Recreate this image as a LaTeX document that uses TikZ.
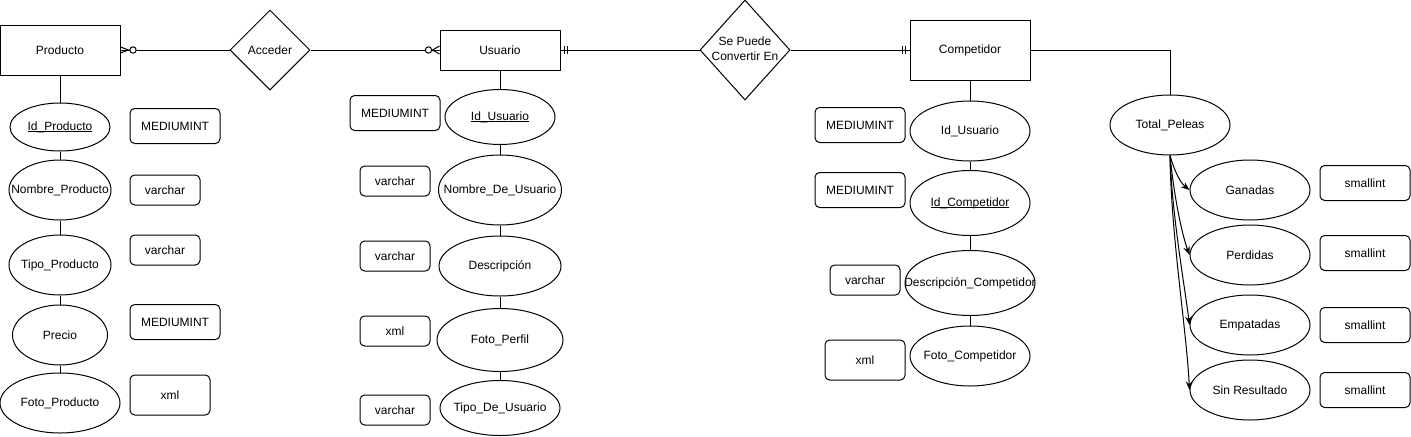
\documentclass[tikz,border=0pt]{standalone}
\usepackage{fontspec}
\setmainfont{Liberation Sans}
\usetikzlibrary{shapes.geometric,arrows.meta,calc}
\newcommand{\tx}[1]{\makebox[0pt]{#1}}
\newcommand{\myul}[1]{\setbox0\hbox{#1}\rlap{\rule[-1.6pt]{\wd0}{0.6pt}}\box0}
\begin{document}
\begin{tikzpicture}[x=0.75pt,y=-0.75pt,line width=0.75pt,
  every node/.style={font=\fontsize{9}{11.25}\selectfont},
  ent/.style 2 args={draw,rectangle,inner sep=0pt,minimum width=#1*0.75pt,minimum height=#2*0.75pt},
  att/.style 2 args={draw,ellipse,inner sep=0pt,minimum width=#1*0.75pt,minimum height=#2*0.75pt},
  typ/.style 2 args={draw,rectangle,rounded corners=3.5pt,inner sep=0pt,minimum width=#1*0.75pt,minimum height=#2*0.75pt},
  rel/.style 2 args={draw,diamond,inner sep=0pt,minimum width=#1*0.75pt,minimum height=#2*0.75pt},
  arr/.style={-{Stealth[length=6.5pt,width=5pt]}}]
\useasboundingbox (0,0) rectangle (1411,436);
% entities and relations
\node[ent={120}{50}] (prod) at (60,50) {\tx{Producto}};
\node[rel={80}{80}] (acc) at (270,50) {\tx{Acceder}};
\node[ent={120}{40}] (usu) at (500,50) {\tx{Usuario}};
\node[rel={90}{100}] (spc) at (745,50) {\tx{\begin{tabular}{@{}c@{}}Se Puede\\Convertir En\end{tabular}}};
\node[ent={120}{60}] (comp) at (970,50) {\tx{Competidor}};
% Producto attributes
\node[att={100}{48}] (idp) at (60,127) {\tx{\myul{Id\_Producto}}};
\node[att={102}{60}] (nomp) at (60,190) {\tx{Nombre\_Producto}};
\node[att={102}{60}] (tipp) at (60,265) {\tx{Tipo\_Producto}};
\node[att={95}{60}] (prec) at (60,335) {\tx{Precio}};
\node[att={120}{60}] (fotp) at (60,403) {\tx{Foto\_Producto}};
\node[typ={90}{35}] (t1) at (175,126) {\tx{MEDIUMINT}};
\node[typ={70}{30}] (t2) at (165,190) {\tx{varchar}};
\node[typ={70}{30}] (t3) at (165,250) {\tx{varchar}};
\node[typ={90}{35}] (t4) at (175,322) {\tx{MEDIUMINT}};
\node[typ={80}{40}] (t5) at (170,395) {\tx{xml}};
% Usuario attributes
\node[att={110}{55}] (idu) at (500,117) {\tx{\myul{Id\_Usuario}}};
\node[att={123}{70}] (nomu) at (500,190) {\tx{Nombre\_De\_Usuario}};
\node[att={122}{60}] (desu) at (500,266) {\tx{Descripción}};
\node[att={126}{63}] (fotu) at (500,340) {\tx{Foto\_Perfil}};
\node[att={120}{55}] (tipu) at (500,408) {\tx{Tipo\_De\_Usuario}};
\node[typ={90}{35}] (u1) at (395,113) {\tx{MEDIUMINT}};
\node[typ={70}{30}] (u2) at (395,181) {\tx{varchar}};
\node[typ={70}{30}] (u3) at (395,256) {\tx{varchar}};
\node[typ={70}{30}] (u4) at (395,331) {\tx{xml}};
\node[typ={70}{30}] (u5) at (395,410) {\tx{varchar}};
% Competidor attributes
\node[att={120}{60}] (idu2) at (970,131) {\tx{Id\_Usuario}};
\node[att={120}{65}] (idc) at (970,203) {\tx{\myul{Id\_Competidor}}};
\node[att={130}{65}] (desc) at (970,283) {\tx{Descripción\_Competidor}};
\node[att={120}{60}] (fotc) at (970,356) {\tx{Foto\_Competidor}};
\node[typ={90}{35}] (c1) at (860,125) {\tx{MEDIUMINT}};
\node[typ={90}{35}] (c2) at (860,190) {\tx{MEDIUMINT}};
\node[typ={70}{30}] (c3) at (865,280) {\tx{varchar}};
\node[typ={80}{40}] (c4) at (865,360) {\tx{xml}};
% Total peleas
\node[att={120}{60}] (tp) at (1170,125) {\tx{Total\_Peleas}};
\node[att={120}{60}] (gan) at (1250,190) {\tx{Ganadas}};
\node[att={120}{60}] (per) at (1250,255) {\tx{Perdidas}};
\node[att={120}{60}] (emp) at (1250,325) {\tx{Empatadas}};
\node[att={120}{60}] (sin) at (1250,390) {\tx{Sin Resultado}};
\node[typ={90}{35}] (s1) at (1365,183) {\tx{smallint}};
\node[typ={90}{35}] (s2) at (1365,253) {\tx{smallint}};
\node[typ={90}{35}] (s3) at (1365,325) {\tx{smallint}};
\node[typ={90}{35}] (s4) at (1365,390) {\tx{smallint}};
% attribute links
\draw (prod.south) -- (idp.north);
\draw (idp.south) -- (nomp.north);
\draw (nomp.south) -- (tipp.north);
\draw (tipp.south) -- (prec.north);
\draw (prec.south) -- (fotp.north);
\draw (usu.south) -- (idu.north);
\draw (idu.south) -- (nomu.north);
\draw (nomu.south) -- (desu.north);
\draw (desu.south) -- (fotu.north);
\draw (fotu.south) -- (tipu.north);
\draw (comp.south) -- (idu2.north);
\draw (idu2.south) -- (idc.north);
\draw (idc.south) -- (desc.north);
\draw (desc.south) -- (fotc.north);
\draw (comp.east) -| (tp.north);
% arrows
\draw[arr] (tp.south) .. controls +(4,14) and +(-10,-8) .. (gan.west);
\draw[arr] (tp.south) .. controls +(4,40) and +(-8,-22) .. (per.west);
\draw[arr] (tp.south) .. controls +(2,60) and +(-5,-40) .. (emp.west);
\draw[arr] (tp.south) .. controls +(1,80) and +(-3,-60) .. (sin.west);
% relationship lines
\draw (prod.east) -- (acc.west);
\draw ($(prod.east)+(0,-3)$) -- ($(prod.east)+(8,0)$) -- ($(prod.east)+(0,3)$);
\draw[fill=white] ($(prod.east)+(12.5,0)$) circle[radius=2.4pt];
\draw (acc.east) -- (usu.west);
\draw ($(usu.west)+(0,-4)$) -- ($(usu.west)+(-7,0)$) -- ($(usu.west)+(0,4)$);
\draw[fill=white] ($(usu.west)+(-11,0)$) circle[radius=2.4pt];
\draw (usu.east) -- (spc.west);
\draw ($(usu.east)+(4,-4)$) -- ($(usu.east)+(4,4)$);
\draw ($(usu.east)+(7,-4)$) -- ($(usu.east)+(7,4)$);
\draw (spc.east) -- (comp.west);
\draw ($(comp.west)+(-7,-4)$) -- ($(comp.west)+(-7,4)$);
\draw ($(comp.west)+(-4,-4)$) -- ($(comp.west)+(-4,4)$);
\end{tikzpicture}
\end{document}
